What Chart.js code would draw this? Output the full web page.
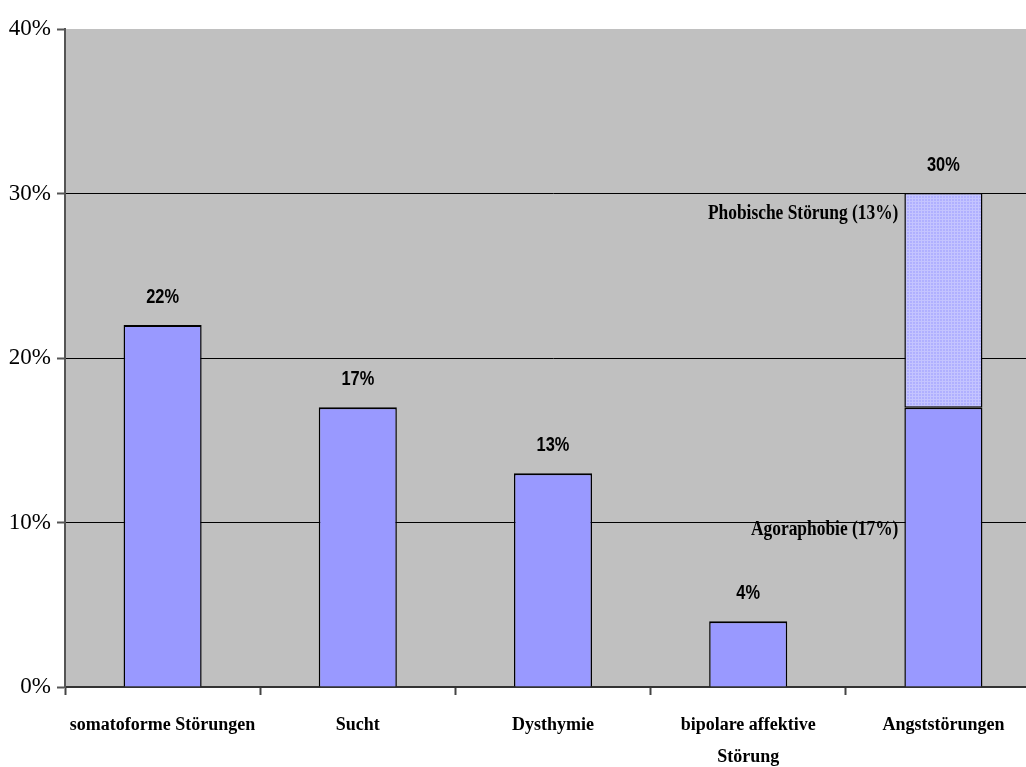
<!DOCTYPE html>
<html>
<head>
<meta charset="utf-8">
<script src="https://cdn.jsdelivr.net/npm/chart.js@4/dist/chart.umd.min.js"></script>
<style>
  html, body { margin: 0; padding: 0; background: #fff; overflow: hidden; }
  #wrap { width: 1041px; height: 767px; position: relative; }
</style>
</head>
<body>
<div id="wrap"><canvas id="c"></canvas></div>
<script>
// Diagnoses (categories) and shares in percent
const categories = [
  'somatoforme Störungen',
  'Sucht',
  'Dysthymie',
  ['bipolare affektive', 'Störung'],
  'Angststörungen'
];
// Base segment: main share; for Angststörungen this is Agoraphobie
const baseValues = [22, 17, 13, 4, 17];
// Upper segment: only Angststörungen (Phobische Störung)
const upperValues = [0, 0, 0, 0, 13];
const segmentNames = ['Agoraphobie', 'Phobische Störung'];
const yTicks = [0, 10, 20, 30, 40];

// Fine cross-hatch fill for the upper segment
function makePattern() {
  const p = document.createElement('canvas');
  p.width = 3; p.height = 3;
  const g = p.getContext('2d');
  g.fillStyle = '#B0B0FF';
  g.fillRect(0, 0, 3, 3);
  g.fillStyle = '#C4C4FF';
  g.fillRect(0, 0, 3, 1);
  g.fillRect(0, 0, 1, 3);
  return g.createPattern(p, 'repeat');
}
const ctxEl = document.getElementById('c');

const plotBackground = {
  id: 'plotBackground',
  beforeDraw(chart) {
    const { ctx, chartArea: a } = chart;
    ctx.save();
    ctx.fillStyle = '#C0C0C0';
    ctx.fillRect(a.left, a.top, a.right - a.left, a.bottom - a.top);
    ctx.restore();
  }
};

function narrowText(ctx, text, x, y, sx) {
  ctx.save();
  ctx.translate(x, y);
  ctx.scale(sx, 1);
  ctx.fillText(text, 0, 0);
  ctx.restore();
}

const valueLabels = {
  id: 'valueLabels',
  afterDatasetsDraw(chart) {
    const { ctx } = chart;
    const x = chart.scales.x, y = chart.scales.y;
    ctx.save();
    // totals above each bar
    ctx.fillStyle = '#000';
    ctx.textAlign = 'center';
    ctx.textBaseline = 'middle';
    ctx.font = 'bold 20px "Liberation Sans", Arial, sans-serif';
    baseValues.forEach((v, i) => {
      const total = v + upperValues[i];
      narrowText(ctx, total + '%', x.getPixelForValue(i), y.getPixelForValue(total) - 28, 0.82);
    });
    // segment names beside the stacked bar
    const meta = chart.getDatasetMeta(0);
    const i = upperValues.findIndex(v => v > 0);
    if (i >= 0) {
      const bar = meta.data[i];
      const left = bar.x - bar.width / 2 - 6;
      ctx.textAlign = 'right';
      ctx.font = 'bold 20px "Liberation Serif", "Times New Roman", serif';
      const upperTop = y.getPixelForValue(baseValues[i] + upperValues[i]);
      const baseTop = y.getPixelForValue(baseValues[i]);
      const baseBottom = y.getPixelForValue(0);
      narrowText(ctx, segmentNames[1] + ' (' + upperValues[i] + '%)', left, upperTop + 20, 0.87);
      narrowText(ctx, segmentNames[0] + ' (' + baseValues[i] + '%)', left, (baseTop + baseBottom) / 2 - 17, 0.87);
    }
    ctx.restore();
  }
};

new Chart(ctxEl, {
  type: 'bar',
  data: {
    labels: categories,
    datasets: [
      {
        data: baseValues,
        backgroundColor: '#9999FF',
        borderColor: '#000',
        borderWidth: { top: 2, left: 1.5, right: 1.5, bottom: 0 },
        borderSkipped: false,
        barPercentage: 0.4,
        categoryPercentage: 1
      },
      {
        data: upperValues,
        backgroundColor: makePattern(),
        borderColor: '#000',
        borderWidth: { top: 1, left: 1.5, right: 1.5, bottom: 1 },
        borderSkipped: false,
        barPercentage: 0.4,
        categoryPercentage: 1
      }
    ]
  },
  options: {
    responsive: true,
    maintainAspectRatio: false,
    animation: false,
    layout: { padding: { top: 29, right: 0, left: 0, bottom: 0 } },
    plugins: { legend: { display: false }, tooltip: { enabled: false } },
    scales: {
      x: {
        stacked: true,
        offset: true,
        afterFit(scale) { scale.height = 80; },
        grid: {
          offset: true,
          drawOnChartArea: false,
          tickLength: 8,
          tickColor: '#444',
          tickWidth: 2
        },
        border: { color: '#333', width: 2 },
        ticks: {
          color: '#000',
          padding: 15,
          maxRotation: 0,
          autoSkip: false,
          font: { family: '"Liberation Serif", "Times New Roman", serif', size: 18, weight: 'bold', lineHeight: 1.75 }
        }
      },
      y: {
        stacked: true,
        min: 0,
        max: 40,
        afterBuildTicks(scale) { scale.ticks = yTicks.map(v => ({ value: v })); },
        afterFit(scale) { scale.width = 65; },
        grid: {
          color: ctx => (ctx.tick && (ctx.tick.value === 0 || ctx.tick.value === 40)) ? 'rgba(0,0,0,0)' : '#000',
          lineWidth: 1,
          tickLength: 8,
          tickColor: '#555',
          tickWidth: 2
        },
        border: { color: '#555', width: 2 },
        ticks: {
          color: '#000',
          padding: 6,
          callback: v => v + '%',
          font: { family: '"Liberation Serif", "Times New Roman", serif', size: 23 }
        }
      }
    }
  },
  plugins: [plotBackground, valueLabels]
});
</script>
</body>
</html>
